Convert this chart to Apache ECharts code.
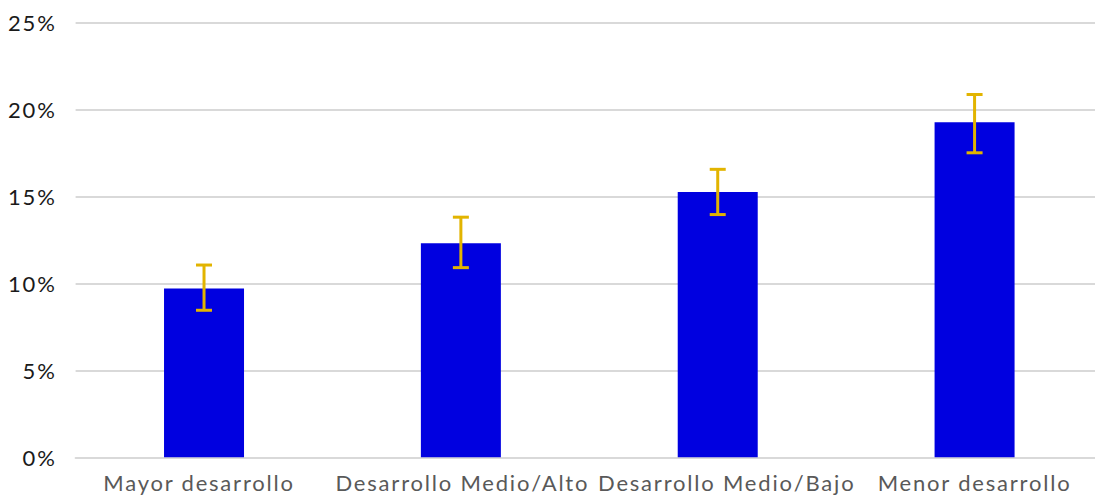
<!DOCTYPE html>
<html><head><meta charset="utf-8">
<script src="https://cdn.jsdelivr.net/npm/echarts@6/dist/echarts.min.js"></script>
<style>html,body{margin:0;padding:0;background:#fff}#c{width:1095px;height:497px;overflow:hidden}#c text{letter-spacing:1.8px}</style>
</head><body><div id="c"></div>
<script>
const categories = ['Mayor desarrollo', 'Desarrollo Medio/Alto', 'Desarrollo Medio/Bajo', 'Menor desarrollo'];
const values = [9.7, 12.3, 15.25, 19.25];
const errLow = [8.45, 10.9, 13.95, 17.5];
const errHigh = [11.05, 13.8, 16.55, 20.85];
const yTicks = [0, 5, 10, 15, 20, 25];

const chart = echarts.init(document.getElementById('c'), null, { renderer: 'svg' });
const font = 'Lato, "DejaVu Sans", sans-serif';
const labelBase = { color: '#595959', fontSize: 22, fontFamily: font };
chart.setOption({
  animation: false,
  grid: { left: 75.6, width: 1027.4, top: 22.3, bottom: 39.7, containLabel: false, outerBoundsMode: 'none' },
  xAxis: {
    type: 'category', data: categories,
    axisLine: { show: true, lineStyle: { color: '#d9d9d9', width: 2 } },
    axisTick: { show: false },
    axisLabel: {
      ...labelBase, margin: 14, interval: 0,
      formatter: (v, i) => '{l' + i + '|' + v + '}',
      rich: {
        l0: { ...labelBase, padding: [0, 10, 0, 0] },
        l1: { ...labelBase, padding: [0, 0, 0, 3] },
        l2: { ...labelBase, padding: [0, 0, 0, 18] },
        l3: { ...labelBase, padding: [0, 0, 0, 0] }
      }
    }
  },
  yAxis: {
    type: 'value', min: yTicks[0], max: yTicks[yTicks.length - 1], interval: 5,
    axisLine: { show: false }, axisTick: { show: false },
    splitLine: { lineStyle: { color: '#d9d9d9', width: 2 } },
    axisLabel: { color: '#1a1a1a', fontSize: 22, fontFamily: font, margin: 19, formatter: v => v + '%' }
  },
  series: [
    { type: 'bar', data: values, barWidth: 80, itemStyle: { color: '#0000e0' }, z: 2 },
    {
      type: 'custom', z: 3,
      data: categories.map((c, i) => [i, errLow[i], errHigh[i]]),
      encode: { x: 0, y: [1, 2] },
      renderItem: function (params, api) {
        const lo = api.coord([api.value(0), api.value(1)]);
        const hi = api.coord([api.value(0), api.value(2)]);
        const hw = 8;
        const st = { stroke: '#e2b400', lineWidth: 3, fill: null };
        return { type: 'group', children: [
          { type: 'line', shape: { x1: hi[0], y1: hi[1], x2: lo[0], y2: lo[1] }, style: st },
          { type: 'line', shape: { x1: hi[0] - hw, y1: hi[1], x2: hi[0] + hw, y2: hi[1] }, style: st },
          { type: 'line', shape: { x1: lo[0] - hw, y1: lo[1], x2: lo[0] + hw, y2: lo[1] }, style: st }
        ] };
      }
    }
  ]
});
</script></body></html>
